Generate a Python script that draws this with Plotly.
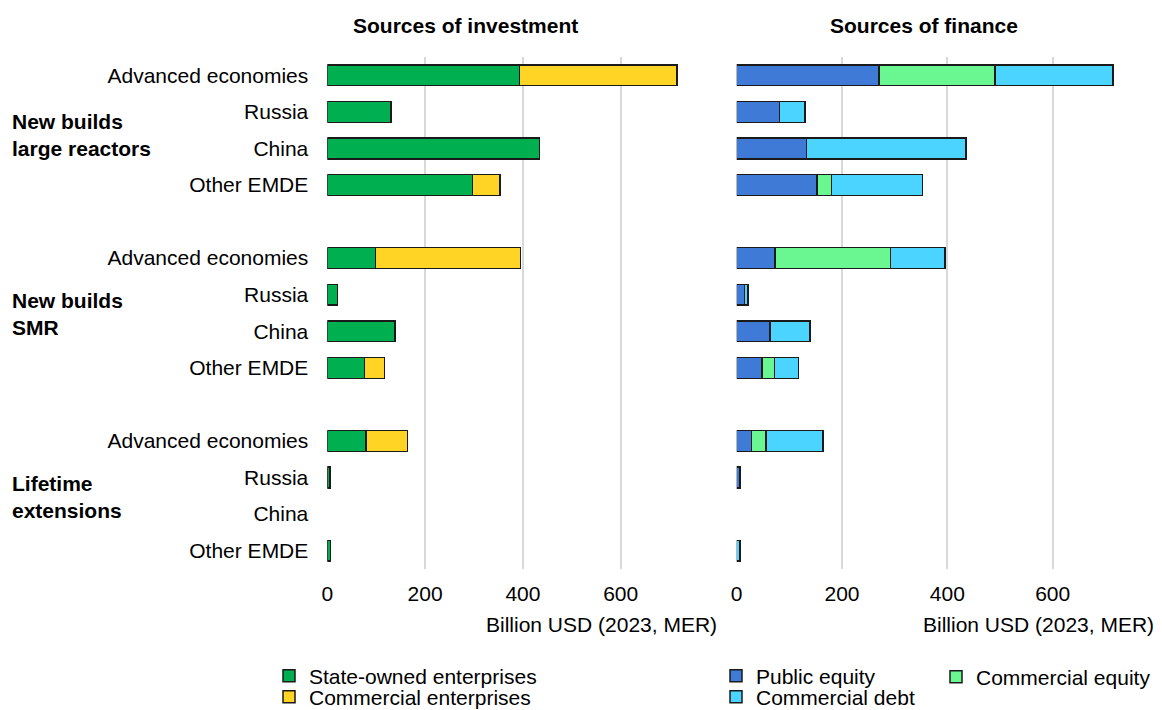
import plotly.graph_objects as go

# ---------------- data ----------------
groups = ["New builds<br>large reactors", "New builds<br>SMR", "Lifetime<br>extensions"]
regions = ["Advanced economies", "Russia", "China", "Other EMDE"]

# Sources of investment (billion USD)
state_owned = [393, 130, 434, 297, 99, 21, 138, 76, 79, 6, None, 7]
commercial_ent = [322, None, None, 56, 296, None, None, 41, 85, None, None, None]

# Sources of finance (billion USD)
public_equity = [270, 81, 133, 152, 73, 15, 63, 48, 28, 5, None, None]
commercial_equity = [220, None, None, 28, 219, None, None, 24, 28, None, None, None]
commercial_debt = [225, 49, 302, 173, 104, 6, 76, 45, 108, 1, None, 6]

x_ticks = [0, 200, 400, 600]
axis_title = "Billion USD (2023, MER)"
panel_titles = ["Sources of investment", "Sources of finance"]

# ---------------- layout helpers ----------------
OFF = 8                      # page body margin
W, H = 1162 - OFF, 710 - OFF
PT, PB = 57, 569             # plot area top/bottom in window px


def px_x(x):
    return (x - OFF) / W


def px_y(y):
    return (PB - y) / (PB - PT)


FONT = "Liberation Sans, Arial, sans-serif"
FS = 21
LINE = "#1a1a1a"

# y positions: 4 rows per group, one blank slot between groups
ypos, ylab = [], []
for g in range(len(groups)):
    for i, r in enumerate(regions):
        ypos.append(g * (len(regions) + 1) + i)
        ylab.append(r)

fig = go.Figure()

left_series = [
    ("State-owned enterprises", state_owned, "#00B050", "legend"),
    ("Commercial enterprises", commercial_ent, "#FFD424", "legend2"),
]
right_series = [
    ("Public equity", public_equity, "#3E7AD6", "legend3"),
    ("Commercial equity", commercial_equity, "#6AF792", "legend4"),
    ("Commercial debt", commercial_debt, "#4AD4FF", "legend5"),
]

for name, vals, col, lg in left_series:
    fig.add_trace(go.Bar(
        x=vals, y=ypos, name=name, orientation="h", width=0.57,
        marker=dict(color=col, line=dict(color=LINE, width=1.5)),
        xaxis="x", yaxis="y", legend=lg,
    ))
for name, vals, col, lg in right_series:
    fig.add_trace(go.Bar(
        x=vals, y=ypos, name=name, orientation="h", width=0.57,
        marker=dict(color=col, line=dict(color=LINE, width=1.5)),
        xaxis="x2", yaxis="y2", legend=lg,
    ))

xcommon = dict(
    range=[0, 800], tickvals=x_ticks, showgrid=True, gridcolor="#d9d9d9",
    gridwidth=1.5, zeroline=False, showline=False, ticks="",
    tickfont=dict(family=FONT, size=FS, color="#000"), ticklabelstandoff=10,
    automargin=False, fixedrange=True,
)
ycommon = dict(
    range=[13.5, -0.5], showgrid=False, zeroline=False, showline=False,
    automargin=False, fixedrange=True,
)

lx0, lx1 = px_x(327.3), px_x(718.5)
rx0, rx1 = px_x(736.7), px_x(1158)

annotations = [
    dict(text="<b>%s</b>" % panel_titles[0], x=px_x(465), y=px_y(25)),
    dict(text="<b>%s</b>" % panel_titles[1], x=px_x(924), y=px_y(25)),
    dict(text=axis_title, x=px_x(719), y=px_y(624), xanchor="right"),
    dict(text=axis_title, x=px_x(1156), y=px_y(624), xanchor="right"),
]
group_y = [134.5, 314, 496.5]
for gname, gy in zip(groups, group_y):
    annotations.append(dict(text="<b>%s</b>" % gname, x=px_x(10), y=px_y(gy),
                            xanchor="left", align="left"))
for a in annotations:
    a.setdefault("xanchor", "center")
    a.update(xref="paper", yref="paper", yanchor="middle", showarrow=False,
             font=dict(family=FONT, size=FS, color="#000"))

leg_common = dict(
    orientation="v", yanchor="middle", xanchor="left", bgcolor="rgba(0,0,0,0)",
    font=dict(family=FONT, size=FS, color="#000"), itemwidth=30,
)
legend_pos = {
    "legend": (269, 676), "legend2": (269, 697),
    "legend3": (716, 676), "legend4": (936, 677), "legend5": (716, 697),
}
legends = {}
for k, (lx, ly) in legend_pos.items():
    d = dict(leg_common)
    d.update(x=px_x(lx), y=px_y(ly))
    legends[k] = d

fig.update_layout(
    width=W, height=H, template="none", barmode="stack",
    margin=dict(l=0, r=0, t=PT - OFF, b=H - (PB - OFF), pad=0, autoexpand=False),
    paper_bgcolor="white", plot_bgcolor="white",
    font=dict(family=FONT, size=FS, color="#000"),
    xaxis=dict(domain=[lx0, lx1], anchor="y", **xcommon),
    xaxis2=dict(domain=[rx0, rx1], anchor="y2", **xcommon),
    yaxis=dict(anchor="x", tickvals=ypos, ticktext=ylab, ticklabelstandoff=18,
               tickfont=dict(family=FONT, size=FS, color="#000"), **ycommon),
    yaxis2=dict(anchor="x2", showticklabels=False, **ycommon),
    annotations=annotations,
    showlegend=True,
    **legends,
)

fig.write_html("out.html")
